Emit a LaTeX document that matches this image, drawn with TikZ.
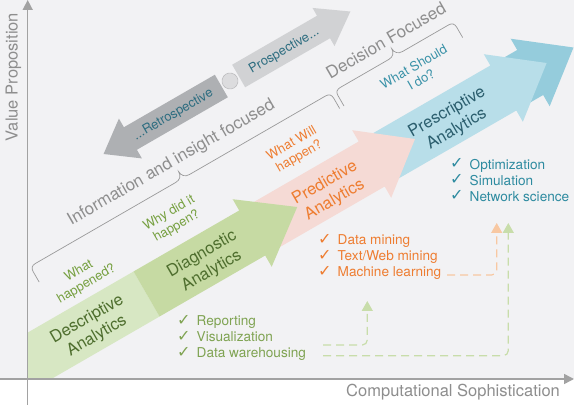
\documentclass[tikz,border=0pt]{standalone}
\usepackage{fontspec}
\setmainfont{TeX Gyre Heros}
\newfontfamily\ckfont{DejaVu Sans}
\usetikzlibrary{arrows.meta}

\definecolor{bgpanel}{HTML}{F2F2F4}
\definecolor{axisgray}{HTML}{A2A2A2}
\definecolor{labelgray}{HTML}{8E8E8E}
\definecolor{bracegray}{HTML}{9A9A9A}
\definecolor{descfill}{HTML}{D7E7C3}
\definecolor{diagfill}{HTML}{C6DAA3}
\definecolor{predfill}{HTML}{F5DAD5}
\definecolor{presfill}{HTML}{B8DEE9}
\definecolor{presdark}{HTML}{95CCDC}
\definecolor{greentext}{HTML}{4E6E2E}
\definecolor{greenq}{HTML}{76A040}
\definecolor{orangetext}{HTML}{EE7D31}
\definecolor{tealtext}{HTML}{2B5E6E}
\definecolor{tealq}{HTML}{3A92A8}
\definecolor{retrofill}{HTML}{AEB0B3}
\definecolor{prosfill}{HTML}{D1D2D4}
\definecolor{dotfill}{HTML}{DCDCDE}
\definecolor{dotline}{HTML}{BDBDBF}
\definecolor{timetext}{HTML}{2D6D80}
\definecolor{dashorange}{HTML}{F8C8A2}
\definecolor{dashgreen}{HTML}{C8DDAA}
\definecolor{listgreen}{HTML}{7FA352}
\definecolor{listteal}{HTML}{2E8BA0}

% check mark column for the lists
\newcommand\ck{\makebox[19.5pt][l]{\raisebox{0.5pt}{\ckfont\fontsize{16}{16}\selectfont ✓}}}

\begin{document}
\begin{tikzpicture}[x=1pt,y=1pt,
  axisline/.style={draw=axisgray, line width=1.5pt, -{Triangle[width=10pt,length=10pt]}},
  axislabel/.style={text=labelgray, font=\fontsize{16.5}{19}\selectfont, inner sep=0pt},
  bandtitle/.style={align=center, font=\fontsize{16.5}{19.5}\selectfont, inner sep=0pt},
  question/.style={align=center, font=\fontsize{13}{15}\selectfont, inner sep=0pt},
  focuslabel/.style={text=labelgray, font=\fontsize{17}{20}\selectfont, inner sep=0pt},
  bracepen/.style={draw=bracegray, line width=0.7pt},
  timelabel/.style={text=timetext, font=\fontsize{13}{15}\selectfont, inner sep=0pt},
  listtext/.style={align=left, font=\fontsize{13.6}{16}\selectfont, inner sep=0pt, anchor=west},
  dashedlink/.style={line width=1.2pt, dash pattern=on 8pt off 5pt, rounded corners=5pt,
    -{Triangle[width=11pt,length=10pt]}}
]
\useasboundingbox (0,0) rectangle (574,405);
\fill[white] (0,0) rectangle (574,405);
\fill[bgpanel] (0,26) rectangle (574,405);

% ---- the analytics band (clipped to the plot quadrant) ----
\begin{scope}
  \clip (28,26) rectangle (574,405);
  \begin{scope}[shift={(53,57)}, rotate=30]
    \fill[presdark] (520,26) -- (551,26) -- (551,39) -- (601,0) -- (551,-39) -- (551,-26) -- (520,-26) -- cycle;
    \fill[presfill] (368,26) -- (520,26) -- (520,39) -- (570,0) -- (520,-39) -- (520,-26) -- (368,-26) -- cycle;
    \fill[predfill] (230,26) -- (368,26) -- (368,39) -- (418,0) -- (368,-39) -- (368,-26) -- (230,-26) -- cycle;
    \fill[descfill] (-120,26) rectangle (108,-26);
    \fill[diagfill] (108,26) -- (230,26) -- (230,39) -- (282,0) -- (230,-39) -- (230,-26) -- (108,-26) -- cycle;
  \end{scope}
\end{scope}

% ---- labels, questions and braces along the band ----
\begin{scope}[shift={(53,57)}, rotate=30, transform shape]
  \node[bandtitle, text=greentext] (desc) at (44,-2) {Descriptive\\Analytics};
  \node[bandtitle, text=greentext] (diag) at (176,-3) {Diagnostic\\Analytics};
  \node[bandtitle, text=orangetext] (pred) at (318,-3) {Predictive\\Analytics};
  \node[bandtitle, text=tealtext] (pres) at (459,-3) {Prescriptive\\Analytics};

  \node[question, text=greenq] (qdesc) at (61,46) {What\\happened?};
  \node[question, text=greenq] (qdiag) at (168,51) {Why did it\\happen?};
  \node[question, text=orangetext] (qpred) at (309,50) {What Will\\happen?};
  \node[question, text=tealq] (qpres) at (453,56) {What Should\\I do?};

  \draw[bracepen] (21,64) -- (21,76) .. controls (21,80) and (23,82) .. (27,82) -- (189,82)
    .. controls (194,82) and (197,85) .. (197,90) .. controls (197,85) and (200,82) .. (205,82)
    -- (362,82) .. controls (366,82) and (368,80) .. (368,76) -- (368,64);
  \draw[bracepen] (373,64) -- (373,76) .. controls (373,80) and (375,82) .. (379,82) -- (435,82)
    .. controls (440,82) and (443,85) .. (443,90) .. controls (443,85) and (446,82) .. (451,82)
    -- (504,82) .. controls (508,82) and (510,80) .. (510,76) -- (510,64);

  \node[focuslabel] (infofocus) at (195,101) {Information and insight focused};
  \node[focuslabel] (decfocus) at (442,100) {Decision Focused};
\end{scope}

% ---- retrospective / prospective arrows ----
\begin{scope}[shift={(230,324)}, rotate=30, transform shape]
  \fill[retrofill] (-10,13) -- (-115,13) -- (-115,23) -- (-146,0) -- (-115,-23) -- (-115,-13) -- (-10,-13) -- cycle;
  \fill[prosfill] (10,13) -- (108,13) -- (108,22) -- (139,0) -- (108,-22) -- (108,-13) -- (10,-13) -- cycle;
  \node[circle, fill=dotfill, draw=dotline, line width=0.6pt, minimum size=16pt, inner sep=0pt] (pivot) at (0,0) {};
  \node[timelabel] (retro) at (-66,-1) {...Retrospective};
  \node[timelabel] (prosp) at (62,-1) {Prospective...};
\end{scope}

% ---- technique lists ----
\node[listtext, text=listgreen] (greenlist) at (177,67) {\ck Reporting\\\ck Visualization\\\ck Data warehousing};
\node[listtext, text=orangetext] (orangelist) at (318,148) {\ck Data mining\\\ck Text/Web mining\\\ck Machine learning};
\node[listtext, text=listteal] (teallist) at (450,225) {\ck Optimization\\\ck Simulation\\\ck Network science};

% ---- dashed progression links ----
\coordinate (ostart) at (447,130);
\coordinate (oend) at (496.7,182);
\coordinate (glstart) at (323,49.3);
\coordinate (glend) at (508.3,182);
\coordinate (gsstart) at (323,60);
\coordinate (gsend) at (367.3,104);
\draw[dashedlink, draw=dashorange] (ostart) -| (oend);
\draw[dashedlink, draw=dashgreen] (glstart) -| (glend);
\draw[dashedlink, draw=dashgreen] (gsstart) -| (gsend);

% ---- axes ----
\coordinate (ybot) at (27.7,0);
\coordinate (ytop) at (27.7,405);
\coordinate (xleft) at (0,26);
\coordinate (xright) at (574,26);
\draw[axisline] (ybot) -- (ytop);
\draw[axisline] (xleft) -- (xright);
\node[axislabel, rotate=90] (ylabel) at (13.3,328) {Value Proposition};
\node[axislabel] (xlabel) at (453,13.3) {Computational Sophistication};
\end{tikzpicture}
\end{document}
